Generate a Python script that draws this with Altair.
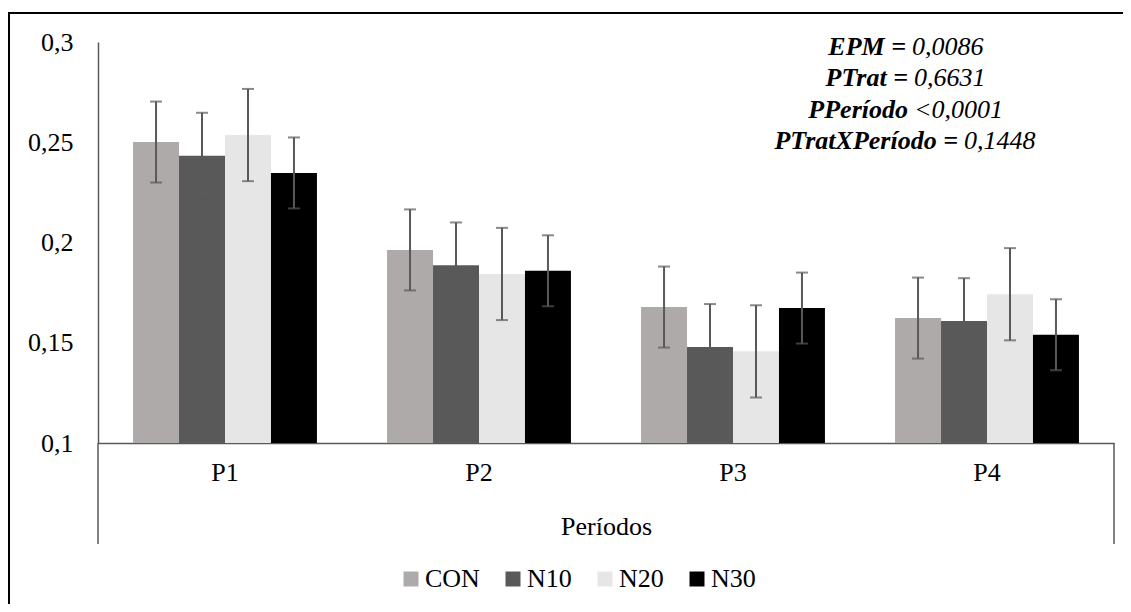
import altair as alt
import pandas as pd

periods = ["P1", "P2", "P3", "P4"]
treatments = ["CON", "N10", "N20", "N30"]
con = [0.2501, 0.1963, 0.1678, 0.1623]
n10 = [0.2433, 0.1886, 0.1479, 0.1608]
n20 = [0.2536, 0.1843, 0.1457, 0.1742]
n30 = [0.2347, 0.1859, 0.1673, 0.1540]
errs = [0.0202, 0.0214, 0.0230, 0.0177]
colors = ["#AEAAAA", "#595959", "#E7E6E6", "#000000"]
y_ticks = [0.1, 0.15, 0.2, 0.25, 0.3]
annot_bold = ["EPM =", "PTrat =", "PPeríodo", "PTratXPeríodo ="]
annot_rest = ["0,0086", "0,6631", "<0,0001", "0,1448"]

rows = []
for t, vals, e in zip(treatments, [con, n10, n20, n30], errs):
    for p, v in zip(periods, vals):
        rows.append({"Período": p, "Tratamento": t, "valor": v,
                     "lo": v - e, "hi": v + e})
df = pd.DataFrame(rows)

W, H = 1016, 401
FONT = "Liberation Serif"
AXC = "#595959"

x_enc = alt.X("Período:N", sort=periods,
              scale=alt.Scale(paddingInner=0.276, paddingOuter=0.138),
              axis=alt.Axis(title="Períodos", labelAngle=0, ticks=False,
                            labelPadding=16, titlePadding=28,
                            domainColor=AXC, domainWidth=1.5))
xo_enc = alt.XOffset("Tratamento:N", sort=treatments,
                     scale=alt.Scale(paddingInner=0, paddingOuter=0))
y_scale = alt.Scale(domain=[0.1, 0.3], zero=False, nice=False)

base = alt.Chart(df)

bars = base.mark_bar(strokeWidth=0).encode(
    x=x_enc, xOffset=xo_enc,
    y=alt.Y("valor:Q", scale=y_scale,
            axis=alt.Axis(title=None, values=y_ticks, ticks=False, grid=False,
                          labelPadding=25, domainColor=AXC, domainWidth=1.5,
                          labelExpr="replace(toString(datum.value), '.', ',')")),
    y2=alt.datum(0.1),
    color=alt.Color("Tratamento:N", sort=treatments,
                    scale=alt.Scale(domain=treatments, range=colors),
                    legend=alt.Legend(title=None, orient="none", direction="horizontal",
                                      legendX=300, legendY=524, symbolType="square",
                                      symbolSize=225, symbolStrokeWidth=0,
                                      labelFont=FONT, labelFontSize=26, labelColor="black",
                                      labelOffset=1, columnPadding=20, padding=0)),
)

err = base.mark_rule(color=AXC, strokeWidth=2).encode(
    x=x_enc, xOffset=xo_enc,
    y=alt.Y("lo:Q", scale=y_scale), y2="hi:Q")
cap_lo = base.mark_tick(color=AXC, size=12, thickness=2).encode(
    x=x_enc, xOffset=xo_enc, y=alt.Y("lo:Q", scale=y_scale))
cap_hi = base.mark_tick(color=AXC, size=12, thickness=2).encode(
    x=x_enc, xOffset=xo_enc, y=alt.Y("hi:Q", scale=y_scale))

# axis extensions below the category axis (Excel style)
ext_left = alt.Chart(pd.DataFrame({"a": [0]})).mark_rule(color=AXC, strokeWidth=1.5).encode(
    x=alt.value(0), y=alt.value(H), y2=alt.value(H + 101))
ext_right = alt.Chart(pd.DataFrame({"a": [0]})).mark_rule(color=AXC, strokeWidth=1.5).encode(
    x=alt.value(W), y=alt.value(H), y2=alt.value(H + 101))

# outer chart border
frame = alt.Chart(pd.DataFrame({"a": [0]})).mark_rect(
    fill="transparent", stroke="black", strokeWidth=2).encode(
    x=alt.value(-89), x2=alt.value(1060), y=alt.value(-29), y2=alt.value(620))

# annotation block: bold-italic label + italic value on each line
centers_y = [5, 36, 68, 99]
splits = [808, 810, 810, 860]
annots = []
for b, r, yy, sx in zip(annot_bold, annot_rest, centers_y, splits):
    one = pd.DataFrame({"b": [b], "r": [r]})
    annots.append(alt.Chart(one).mark_text(
        font=FONT, fontSize=26, fontWeight="bold", fontStyle="italic",
        align="right", baseline="middle", color="black").encode(
        text="b:N", x=alt.value(sx), y=alt.value(yy)))
    annots.append(alt.Chart(one).mark_text(
        font=FONT, fontSize=26, fontStyle="italic",
        align="left", baseline="middle", color="black").encode(
        text="r:N", x=alt.value(sx + 6), y=alt.value(yy)))

chart = alt.layer(frame, bars, err, cap_lo, cap_hi, ext_left, ext_right, *annots).properties(
    width=W, height=H,
    background="white",
    autosize=alt.AutoSizeParams(type="none"),
    padding={"left": 90, "top": 34, "right": 9, "bottom": 161},
).configure_view(stroke=None).configure_axis(
    labelFont=FONT, labelFontSize=26, labelColor="black",
    titleFont=FONT, titleFontSize=26, titleColor="black", titleFontWeight="normal",
)

chart.save("out.html", embed_options={"renderer": "svg", "actions": False})
